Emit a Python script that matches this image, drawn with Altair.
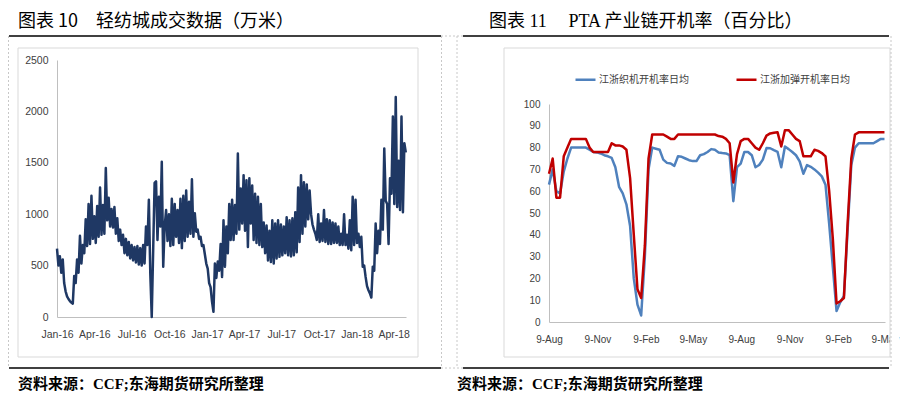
import altair as alt
import pandas as pd

# ---------------- data: left chart (轻纺城成交数据, 万米) ----------------
left_start = "2016-01-01"
# two readings per week: first half / second half of each week
left_week_a = [665, 590, 560, 250, 175, 140, 400, 560, 790, 700,
               950, 1100, 1180, 980, 1080, 1260, 1090, 1450, 1160, 1050,
               1070, 960, 850, 800, 760, 730, 700, 680, 690, 670,
               700, 880, 1140, 0, 1305, 750, 880, 490, 1040, 1000,
               1150, 1100, 1040, 1150, 1180, 1230, 1120, 1340, 1010, 850,
               780, 700, 520, 330, 150, 520, 540, 710, 940, 880,
               1100, 1140, 1090, 1590, 1250, 1380, 1330, 1350, 1280, 1200,
               1170, 1100, 920, 890, 840, 940, 910, 940, 900, 880,
               970, 940, 960, 1020, 1260, 1380, 1310, 1290, 1230, 900,
               810, 1000, 910, 1040, 950, 940, 920, 910, 880, 810,
               1000, 800, 940, 1170, 1140, 810, 780, 500, 300, 230,
               490, 910, 840, 1140, 1640, 1100, 1350, 1950, 2140, 1520,
               1950, 1690]
left_week_b = [500, 430, 330, 200, 155, 130, 330, 430, 520, 620,
               690, 710, 760, 720, 780, 800, 810, 940, 880, 870,
               810, 740, 700, 620, 600, 570, 550, 530, 510, 500,
               520, 700, 420, 650, 1320, 1170, 1510, 880, 740, 690,
               700, 780, 720, 670, 740, 780, 810, 780, 830, 760,
               690, 610, 470, 290, 50, 380, 450, 390, 490, 620,
               750, 750, 810, 850, 910, 840, 680, 910, 750, 720,
               700, 680, 620, 550, 535, 520, 570, 585, 600, 620,
               600, 590, 600, 630, 730, 810, 880, 950, 1000, 850,
               750, 730, 740, 730, 710, 710, 720, 720, 700, 700,
               700, 665, 650, 700, 720, 680, 490, 390, 260, 190,
               450, 620, 710, 850, 1130, 710, 1200, 1100, 1070, 1040,
               1020, 1600]
left_ticks = [(2016, 1), (2016, 4), (2016, 7), (2016, 10), (2017, 1),
              (2017, 4), (2017, 7), (2017, 10), (2018, 1), (2018, 4)]
left_y_ticks = [0, 500, 1000, 1500, 2000, 2500]

# ---------------- data: right chart (PTA 产业链开机率, %) ----------------
right_start = "2016-08-09"
weaving = [63, 70, 60, 59, 69, 75, 80, 80, 80, 80,
           80, 79, 78, 77.8, 77.3, 76.5, 76, 75.3, 71, 62,
           59, 54, 44, 20, 8, 3, 30, 70, 80, 79.5,
           79, 74.5, 73, 72.7, 71.6, 76, 75.8, 75, 74.2, 73.8,
           73.8, 76.5, 77, 78, 79.3, 79, 77.8, 77.5, 77.3, 76.5,
           55.4, 71, 72.7, 78, 78, 76.5, 71, 72, 74.5, 79.8,
           79.7, 78.8, 78, 71, 80.5, 79.3, 78, 76.5, 73.7, 68,
           72, 71.2, 70, 68.5, 66.8, 63, 45, 25, 5, 9,
           12, 42, 72, 80, 82, 82, 82, 82, 82, 83,
           84, 84]
texturing = [68, 75, 57, 57, 76, 80, 84, 84, 84, 84,
             84, 80, 78, 78, 78, 78, 78, 82, 81, 81,
             80.5, 79, 66, 40, 15, 11, 35, 75, 86, 86,
             86, 86, 85, 84, 84, 86, 86, 86, 86, 86,
             86, 86, 86, 86, 86, 86, 85.3, 85, 84, 82,
             64, 77, 83, 84, 84, 82, 80, 79, 82, 85.5,
             86.5, 86.8, 87, 80.5, 88, 88, 86, 84, 83, 76,
             76, 76, 79, 78.5, 77.5, 76, 60, 38, 8.5, 9.5,
             11, 45, 75, 86, 87, 87, 87, 87, 87, 87,
             87, 87]
series_names = ["江浙织机开机率日均", "江浙加弹开机率日均"]
series_colors = ["#4f81bd", "#c00000"]
right_ticks = [(2016, 8), (2016, 11), (2017, 2), (2017, 5), (2017, 8),
               (2017, 11), (2018, 2), (2018, 5)]
right_y_ticks = list(range(0, 101, 10))

titles = ["图表 10\u2002\u2002轻纺城成交数据（万米）", "图表 11\u2002\u2002\u2009PTA 产业链开机率（百分比）"]
source_text = "资料来源：CCF;东海期货研究所整理"

# ---------------- build tables ----------------
t0 = pd.Timestamp(left_start)
rows = []
for w, (a, b) in enumerate(zip(left_week_a, left_week_b)):
    rows.append({"date": t0 + pd.Timedelta(days=7 * w), "value": a})
    rows.append({"date": t0 + pd.Timedelta(days=7 * w, hours=84), "value": b})
left_df = pd.DataFrame(rows)

r0 = pd.Timestamp(right_start)
rrows = []
for name, vals in zip(series_names, [weaving, texturing]):
    for k, v in enumerate(vals):
        rrows.append({"date": r0 + pd.Timedelta(days=7 * k), "value": v, "series": name})
right_df = pd.DataFrame(rrows)

one = pd.DataFrame({"k": [0]})

AXIS_FONT = "Liberation Sans, Arial, sans-serif"
CJK = "Noto Sans CJK SC, sans-serif"
SERIF_CJK = "Liberation Serif, Noto Sans CJK SC, serif"
LABEL_COLOR = "#404040"
AXIS_LINE = "#bfbfbf"

W1, H1 = 349, 257
W2, H2 = 336, 262
GAP = 143


def hrule(x1, x2, y, color, width, dash=None):
    kw = {"color": color, "strokeWidth": width}
    if dash:
        kw["strokeDash"] = dash
    return alt.Chart(one).mark_rule(**kw).encode(
        x=alt.value(x1), x2=alt.value(x2), y=alt.value(y))


def vrule(x, y1, y2, color, width, dash=None, opacity=1.0):
    kw = {"color": color, "strokeWidth": width, "opacity": opacity}
    if dash:
        kw["strokeDash"] = dash
    return alt.Chart(one).mark_rule(**kw).encode(
        x=alt.value(x), y=alt.value(y1), y2=alt.value(y2))


def box(x1, x2, y1, y2, stroke, fill="white", fill_opacity=0.0):
    return alt.Chart(one).mark_rect(
        fill=fill, fillOpacity=fill_opacity, stroke=stroke, strokeWidth=1
    ).encode(x=alt.value(x1), x2=alt.value(x2), y=alt.value(y1), y2=alt.value(y2))


def label(text, x, y, font, size, weight="normal"):
    return alt.Chart(one).mark_text(
        text=text, align="left", baseline="middle", font=font,
        fontSize=size, fontWeight=weight, color="#000000"
    ).encode(x=alt.value(x), y=alt.value(y))


def dt(y, m, d):
    return alt.DateTime(year=y, month=m, date=d)


DOT = [2, 2]
DOT_COLOR = "#c8c8c8"

# ---------------- left panel ----------------
left_line = alt.Chart(left_df).mark_line(
    color="#1f3864", strokeWidth=2.5, strokeJoin="round"
).encode(
    x=alt.X("date:T",
            scale=alt.Scale(domain=[dt(2016, 1, 1), dt(2018, 5, 1)]),
            axis=alt.Axis(values=[dt(y, m, 1) for y, m in left_ticks],
                          format="%b-%y", title=None, labelAngle=0,
                          labelFont=AXIS_FONT, labelFontSize=10.5,
                          labelColor=LABEL_COLOR, ticks=False, tickSize=0,
                          labelPadding=12, grid=False, domainColor=AXIS_LINE,
                          labelFlush=False, labelOverlap=False)),
    y=alt.Y("value:Q",
            scale=alt.Scale(domain=[0, 2500]),
            axis=alt.Axis(values=left_y_ticks, title=None, format="d",
                          labelFont=AXIS_FONT, labelFontSize=10.5,
                          labelColor=LABEL_COLOR, ticks=False, tickSize=0,
                          labelPadding=9, grid=False, domainColor=AXIS_LINE)),
)

left = alt.layer(
    vrule(-48.5, -51.5, -51.5, "#ffffff", 1, opacity=0),
    box(-39, 361, -12, 297, "#d9d9d9"),
    left_line,
    label(titles[0], -39, -38, CJK, 18),
    hrule(-48, 384, -24, "#000000", 1.3),
    hrule(-48, 384, 308, "#000000", 1.3),
    hrule(384, 406, -24, DOT_COLOR, 1, DOT),
    hrule(384, 406, 308, DOT_COLOR, 1, DOT),
    vrule(-48.5, -24, 308, DOT_COLOR, 1, DOT),
    vrule(384.5, -24, 308, DOT_COLOR, 1, DOT),
    label(source_text, -39, 324, SERIF_CJK, 15, "bold"),
).properties(width=W1, height=H1)

# ---------------- right panel ----------------
right_line = alt.Chart(right_df).mark_line(strokeWidth=2.5, strokeJoin="round").encode(
    x=alt.X("date:T",
            scale=alt.Scale(domain=[dt(2016, 8, 9), dt(2018, 5, 9)]),
            axis=alt.Axis(values=[dt(y, m, 9) for y, m in right_ticks],
                          format="%-d-%b", title=None, labelAngle=0,
                          labelFont=AXIS_FONT, labelFontSize=10,
                          labelColor=LABEL_COLOR, ticks=False, tickSize=0,
                          labelPadding=12, grid=False, domainColor=AXIS_LINE,
                          labelFlush=False, labelOverlap=False)),
    y=alt.Y("value:Q",
            scale=alt.Scale(domain=[0, 100], range=[H2, 44]),
            axis=alt.Axis(values=right_y_ticks, title=None,
                          labelFont=AXIS_FONT, labelFontSize=10,
                          labelColor=LABEL_COLOR, ticks=False, tickSize=0,
                          labelPadding=9, grid=False, domainColor=AXIS_LINE)),
    color=alt.Color("series:N",
                    scale=alt.Scale(domain=series_names, range=series_colors),
                    sort=series_names,
                    legend=alt.Legend(orient="none", legendX=W1 + GAP + 25, legendY=8,
                                      direction="horizontal", title=None,
                                      symbolType="stroke", symbolSize=400,
                                      symbolStrokeWidth=2.5, labelFont=CJK,
                                      labelFontSize=10, labelColor=LABEL_COLOR,
                                      columnPadding=42, labelOffset=2,
                                      padding=0)),
)

right = alt.layer(
    right_line,
    box(341.5, 350, 268, 292, "#ffffff", "#ffffff", 1.0),
    box(-45, 341, -12, 297, "#d9d9d9"),
    label(titles[1], -60, -38, SERIF_CJK, 18),
    hrule(-86, 340, -24, "#000000", 1.3),
    hrule(-86, 340, 308, "#000000", 1.3),
    vrule(-92, -24, 308, DOT_COLOR, 1, DOT),
    vrule(342, -24, 308, DOT_COLOR, 1, DOT),
    label(source_text, -92, 324, SERIF_CJK, 15, "bold"),
).properties(width=W2, height=H2)

chart = alt.hconcat(left, right, spacing=GAP, bounds="flush").properties(
    padding=0, background="white"
).configure_view(stroke=None)

chart.save("out.html", embed_options={"renderer": "svg", "actions": False})
